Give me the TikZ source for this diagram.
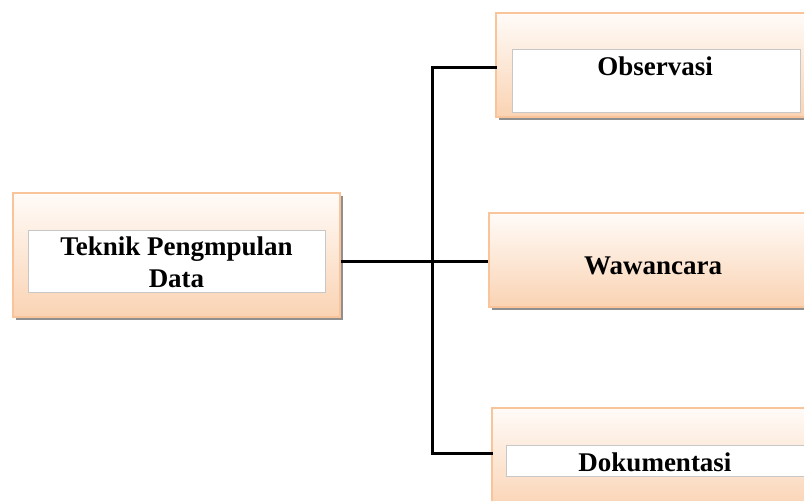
\documentclass[tikz,border=0pt]{standalone}
\usepackage{fontspec}
\setmainfont{Liberation Serif}
\usetikzlibrary{shadows}
\definecolor{peachTop}{HTML}{FFFBF8}
\definecolor{peachBot}{HTML}{FAD3B3}
\definecolor{peachLine}{HTML}{F9C49A}
\tikzset{
  obox/.style={rectangle, draw=peachLine, line width=1.2pt, top color=peachTop, bottom color=peachBot,
    drop shadow={shadow xshift=3pt, shadow yshift=-3pt, fill=black!55, opacity=0.8}},
  ibox/.style={rectangle, draw=black!22, line width=0.8pt, fill=white},
  lbl/.style={font=\bfseries\fontsize{27}{32}\selectfont, align=center, inner sep=0pt},
  conn/.style={line width=3pt, black}
}
\begin{document}
\begin{tikzpicture}[x=1pt, y=-1pt]
  \useasboundingbox (0,0) rectangle (804,501);
  \clip (0,0) rectangle (804,501);
  % outer boxes
  \node[obox, minimum width=327pt, minimum height=124pt] (kiri) at (176.5,255) {};
  \node[obox, minimum width=324pt, minimum height=104pt] (obs) at (658,65) {};
  \node[obox, minimum width=331pt, minimum height=94pt] (waw) at (654.5,260) {};
  \node[obox, minimum width=328pt, minimum height=102pt] (dok) at (656,459) {};
  % inner boxes
  \node[ibox, minimum width=297pt, minimum height=62pt] (kiriIn) at (176.5,261) {};
  \node[ibox, minimum width=288pt, minimum height=63pt] (obsIn) at (656,80.5) {};
  \node[ibox, minimum width=300pt, minimum height=31pt] (dokIn) at (656,460.5) {};
  % texts
  \node[lbl] (tKiri) at (176.5,262) {Teknik Pengmpulan\\Data};
  \node[lbl] (tObs) at (655,66) {Observasi};
  \node[lbl] (tWaw) at (653,266) {Wawancara};
  \node[lbl] (tDok) at (655,462) {Dokumentasi};
  % connectors
  \coordinate (jt) at (432,67);
  \coordinate (jm) at (432,261);
  \coordinate (jb) at (432,453);
  \draw[conn, line cap=rect] (jt -| obs.west) -- (jt) -- (jb) -- (jb -| dok.west);
  \draw[conn] (jm -| kiri.east) -- (jm -| waw.west);
\end{tikzpicture}
\end{document}
